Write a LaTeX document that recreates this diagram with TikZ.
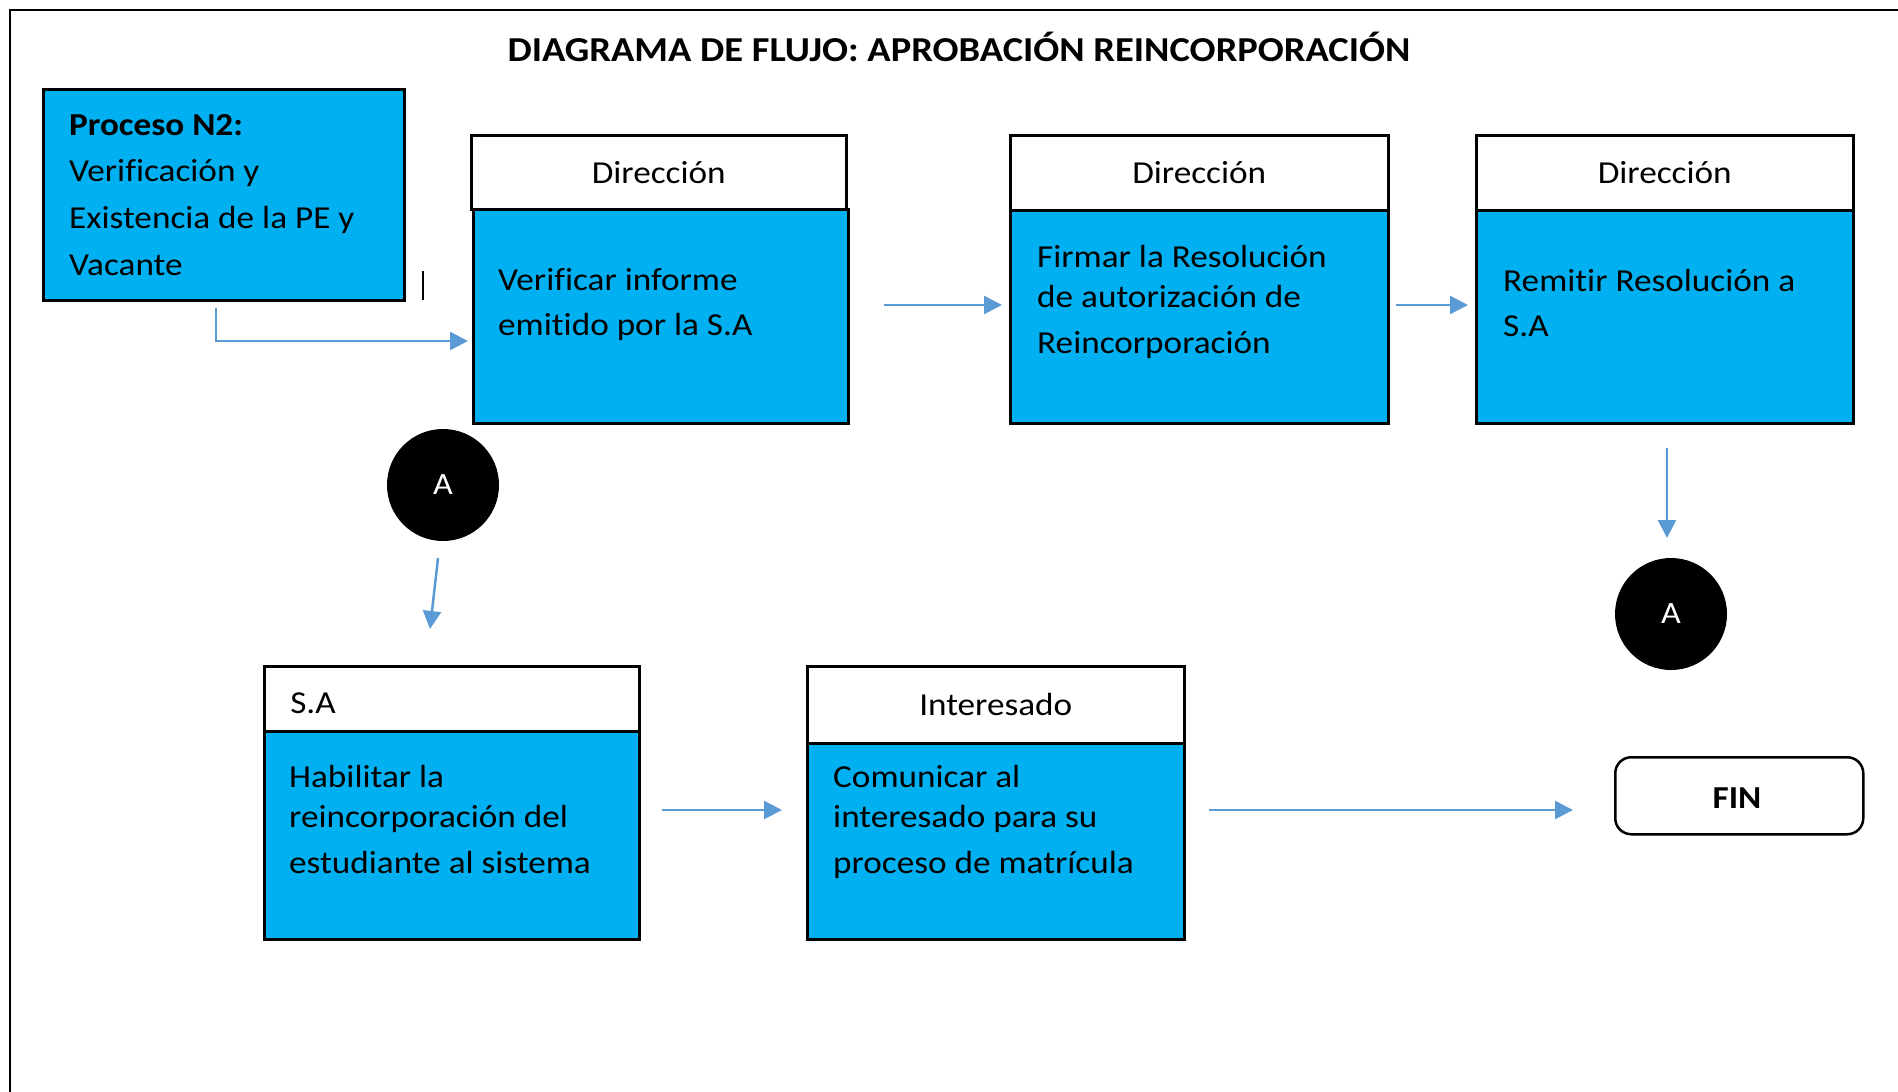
\documentclass[tikz,border=0pt]{standalone}
\usepackage{fontspec}
\setmainfont{Carlito}[FakeStretch=1.1,Ligatures={NoCommon,NoRare,NoContextual},Contextuals=NoAlternate]
\usetikzlibrary{arrows.meta}
\definecolor{boxblue}{HTML}{00B0F0}
\definecolor{arrblue}{HTML}{5B9BD5}
\tikzset{
 hdr/.style={draw=black, line width=2.5pt, fill=white, anchor=north west, inner sep=0pt, font=\fontsize{32pt}{38pt}\selectfont},
 body/.style={draw=black, line width=2.5pt, fill=boxblue, anchor=north west, inner sep=0pt},
 txt/.style={anchor=base west, inner sep=0pt, font=\fontsize{32pt}{45pt}\selectfont},
 txtb/.style={anchor=base west, inner sep=0pt, font=\fontsize{32pt}{40pt}\selectfont},
 arr/.style={draw=arrblue, line width=2.5pt, -{Triangle[length=18pt,width=18pt]}},
 conn/.style={circle, fill=black, minimum size=112pt, inner sep=0pt, text=white, font=\fontsize{31pt}{36pt}\selectfont},
}
\begin{document}
\begin{tikzpicture}[x=1pt,y=-1pt]
\useasboundingbox (0,0) rectangle (1898,1092);
\fill[white] (0,0) rectangle (1898,1092);
% frame
\draw[line width=2pt] (10,1110) -- (10,10) -- (1920,10);
% title
\node[anchor=base, inner sep=0pt, font=\bfseries\fontsize{35pt}{40pt}\selectfont] (title) at (959,61) {DIAGRAMA DE FLUJO: APROBACIÓN REINCORPORACIÓN};
% Proceso N2
\node[body, minimum width=361pt, minimum height=211pt] (p) at (42,88) {};
\node[anchor=base west, inner sep=0pt, font=\fontsize{32pt}{46.7pt}\selectfont] (tp) at (69,135) {\parbox[t]{330pt}{\raggedright\textbf{Proceso N2:}\\Verificación y\\Existencia de la PE y\\Vacante}};
\draw[line width=1.5pt] (423,271) -- (423,300);
% Box 1
\node[body, minimum width=375pt, minimum height=214pt] (b1) at (472,208) {};
\node[hdr, minimum width=375pt, minimum height=74pt] (h1) at (470,134) {Dirección};
\node[txt] (t1) at (498,290) {\parbox[t]{330pt}{\raggedright Verificar informe\\emitido por la S.A}};
% Box 2
\node[body, minimum width=378pt, minimum height=213pt] (b2) at (1009,209) {};
\node[hdr, minimum width=378pt, minimum height=75pt] (h2) at (1009,134) {Dirección};
\node[txtb] (t2) at (1037,267) {\parbox[t]{340pt}{\raggedright Firmar la Resolución\\de autorización de\\[6pt]Reincorporación}};
% Box 3
\node[body, minimum width=377pt, minimum height=213pt] (b3) at (1475,209) {};
\node[hdr, minimum width=377pt, minimum height=75pt] (h3) at (1475,134) {Dirección};
\node[txt] (t3) at (1503,291) {\parbox[t]{340pt}{\raggedright Remit\kern0pt ir Resolución a\\S.A}};
% S.A box
\node[body, minimum width=375pt, minimum height=208pt] (bs) at (263,730) {};
\node[hdr, minimum width=375pt, minimum height=65pt, text width=323pt, align=left, inner xsep=26pt, text height=30pt, text depth=0pt] (hs) at (263,665) {S.A};
\node[txtb] (ts) at (289,787) {\parbox[t]{340pt}{\raggedright Habilitar la\\reincorporación del\\[6pt]estudiante al sistema}};
% Interesado box
\node[body, minimum width=377pt, minimum height=196pt] (bi) at (806,742) {};
\node[hdr, minimum width=377pt, minimum height=77pt] (hi) at (806,665) {Interesado};
\node[txtb] (ti) at (833,787) {\parbox[t]{340pt}{\raggedright Comunicar al\\interesado para su\\[6pt]proceso de matrícula}};
% connectors A
\node[conn] (ca1) at (443,485) {A};
\node[conn] (ca2) at (1671,614) {A};
% FIN
\node[draw=black, line width=2.5pt, rounded corners=16pt, minimum width=248pt, minimum height=77pt, anchor=north west, inner sep=0pt, fill=white] (fin) at (1614,756) {};
\node[anchor=base, inner sep=0pt, font=\bfseries\fontsize{32pt}{38pt}\selectfont] (fint) at (1737,808) {FIN};
% arrow end points
\coordinate (c1s) at (216,308); \coordinate (c1e) at (468,341);
\coordinate (c2s) at (884,305); \coordinate (c2e) at (1002,305);
\coordinate (c3s) at (1396,305); \coordinate (c3e) at (1468,305);
\coordinate (c4s) at (1667,448); \coordinate (c4e) at (1667,538);
\coordinate (c5s) at (438,558); \coordinate (c5e) at (430,629);
\coordinate (c6s) at (662,810); \coordinate (c6e) at (782,810);
\coordinate (c7s) at (1209,810); \coordinate (c7e) at (1573,810);
\draw[arr] (c1s) |- (c1e);
\draw[arr] (c2s) -- (c2e);
\draw[arr] (c3s) -- (c3e);
\draw[arr] (c4s) -- (c4e);
\draw[arr] (c5s) -- (c5e);
\draw[arr] (c6s) -- (c6e);
\draw[arr] (c7s) -- (c7e);
\end{tikzpicture}
\end{document}
